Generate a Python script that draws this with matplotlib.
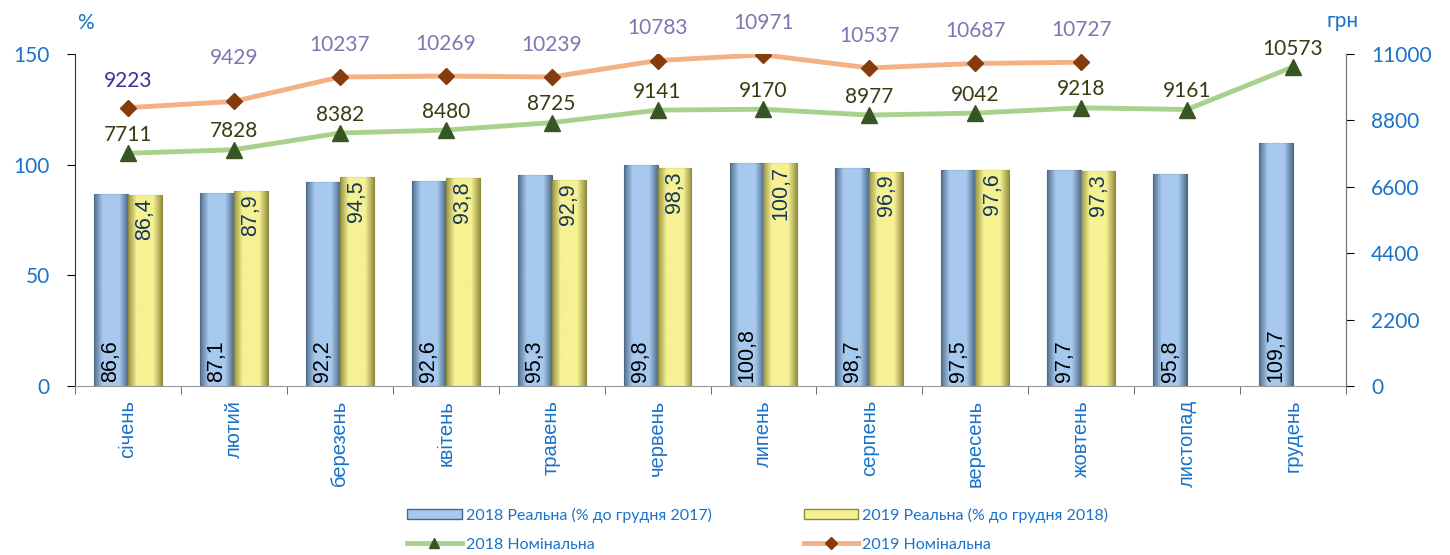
import numpy as np
import matplotlib
matplotlib.use('Agg')
import matplotlib.pyplot as plt
from matplotlib.patches import Patch
from matplotlib.lines import Line2D
from matplotlib.colors import LinearSegmentedColormap

plt.rcParams['font.family'] = ['Lato', 'DejaVu Sans']

months = ['січень', 'лютий', 'березень', 'квітень', 'травень', 'червень',
          'липень', 'серпень', 'вересень', 'жовтень', 'листопад', 'грудень']
real_2018 = [86.6, 87.1, 92.2, 92.6, 95.3, 99.8, 100.8, 98.7, 97.5, 97.7, 95.8, 109.7]
real_2019 = [86.4, 87.9, 94.5, 93.8, 92.9, 98.3, 100.7, 96.9, 97.6, 97.3, np.nan, np.nan]
nom_2018 = [7711, 7828, 8382, 8480, 8725, 9141, 9170, 8977, 9042, 9218, 9161, 10573]
nom_2019 = [9223, 9429, 10237, 10269, 10239, 10783, 10971, 10537, 10687, 10727, np.nan, np.nan]

legend_labels = ['2018 Реальна (% до грудня 2017)', '2018 Номінальна',
                 '2019 Реальна (% до грудня 2018)', '2019 Номінальна']

BLUE_TXT = '#1a72c9'
blue_bar = '#a7c9ee'
yellow_bar = '#f6f193'

fig = plt.figure(figsize=(14.5, 5.55), dpi=100)
ax = fig.add_axes([0.0517, 0.3045, 0.8766, 0.5982])
ax2 = ax.twinx()

x = np.arange(len(months))
w = 0.32


def bevel_bars(ax, xs, vals, color, dark):
    # flat bar + horizontal gradient clipped to it, fakes excel bevel
    bars = ax.bar(xs, vals, width=w, color=color, edgecolor=dark, linewidth=0.8, zorder=2)
    cmap = LinearSegmentedColormap.from_list('b', [dark, color, color, color, dark])
    grad = np.linspace(0, 1, 64).reshape(1, -1)
    for b in bars:
        h = b.get_height()
        if np.isnan(h):
            continue
        x0 = b.get_x()
        im = ax.imshow(grad, cmap=cmap, aspect='auto', zorder=2.1,
                       extent=[x0, x0 + b.get_width(), 0, h], alpha=0.9)
        im.set_clip_path(b)
    return bars


bars1 = bevel_bars(ax, x - w / 2, real_2018, blue_bar, '#4a6684')
bars2 = bevel_bars(ax, x + w / 2, real_2019, yellow_bar, '#8e8a3c')

for xi, v in zip(x, real_2018):
    ax.text(xi - w / 2, 2, f'{v:.1f}'.replace('.', ','), rotation=90, ha='center', va='bottom',
            fontsize=15.5, color='black', family=['Liberation Sans'], zorder=4)
for xi, v in zip(x, real_2019):
    if np.isnan(v):
        continue
    ax.text(xi + w / 2, v - 1.5, f'{v:.1f}'.replace('.', ','), rotation=90, ha='center', va='top',
            fontsize=15.5, color='#17365d', family=['Liberation Sans'], zorder=4)

ax.set_xlim(-0.5, len(months) - 0.5)
ax.set_ylim(0, 150)
ax.set_yticks([0, 50, 100, 150])
ax.set_xticks(x)
ax.set_xticklabels(months, rotation=90, color=BLUE_TXT, fontsize=14.5, family=['Liberation Sans'])
ax.set_xticks(np.arange(-0.5, len(months)), minor=True)
ax.tick_params(axis='x', which='major', length=0, pad=10)
ax.tick_params(axis='x', which='minor', length=6, color='#555555')
ax.tick_params(axis='y', labelcolor=BLUE_TXT, labelsize=15, length=6, pad=12)
ax.set_xlim(-0.5, len(months) - 0.5)

# lines on right axis
ax2.plot(x, nom_2019, color='#f4b183', lw=3.5, marker='D', ms=8,
         mfc='#843c0c', mec='#843c0c', zorder=3)
ax2.plot(x, nom_2018, color='#a9d18e', lw=3.5, marker='^', ms=11,
         mfc='#375623', mec='#375623', zorder=3)
ax2.set_ylim(0, 11000)
ax2.set_yticks([0, 2200, 4400, 6600, 8800, 11000])
ax2.tick_params(axis='y', labelcolor=BLUE_TXT, labelsize=15, length=6, pad=12)

for i, (xi, v) in enumerate(zip(x, nom_2019)):
    if np.isnan(v):
        continue
    c = '#333399' if i == 0 else '#7a78b0'
    dy = 12 if i == 0 else (24 if i == 1 else 16)
    ax2.annotate(f'{v:.0f}', (xi, v), xytext=(0, dy), textcoords='offset points',
                 ha='center', va='bottom', fontsize=15, color=c)
for xi, v in zip(x, nom_2018):
    ax2.annotate(f'{v:.0f}', (xi, v), xytext=(0, 6), textcoords='offset points',
                 ha='center', va='bottom', fontsize=15, color='#3b3b12')

for a in (ax, ax2):
    a.spines['top'].set_visible(False)
    a.spines['left'].set_color('#333333')
    a.spines['right'].set_color('#777777')
    a.spines['bottom'].set_color('#999999')
ax2.spines['left'].set_visible(False)
ax2.spines['bottom'].set_visible(False)

fig.text(0.059, 0.958, '%', color=BLUE_TXT, fontsize=15, ha='center', va='center')
fig.text(0.926, 0.962, 'грн', color=BLUE_TXT, fontsize=15, ha='center', va='center')

handles = [Patch(facecolor=blue_bar, edgecolor='#4a6684'),
           Line2D([], [], color='#a9d18e', lw=3.5, marker='^', ms=7, mfc='#375623', mec='#375623'),
           Patch(facecolor=yellow_bar, edgecolor='#8e8a3c'),
           Line2D([], [], color='#f4b183', lw=3.5, marker='D', ms=6, mfc='#843c0c', mec='#843c0c')]
leg = fig.legend(handles, legend_labels, loc='lower left', bbox_to_anchor=(0.271, -0.02), ncol=2,
                 frameon=False, fontsize=11.5, handlelength=3.4, handleheight=0.6, handletextpad=0.25,
                 columnspacing=5.8, labelspacing=0.95)
for t in leg.get_texts():
    t.set_color(BLUE_TXT)

fig.savefig('out.png', dpi=100)
